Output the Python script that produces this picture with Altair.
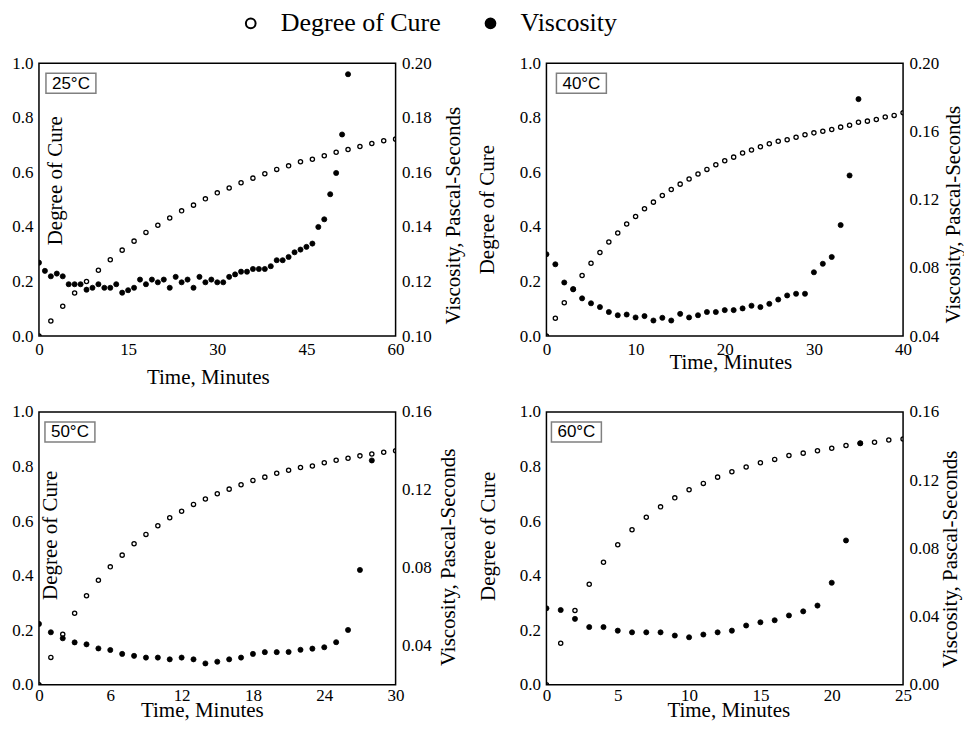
import altair as alt
import pandas as pd

SERIES = ["Degree of Cure", "Viscosity"]
TEMPS = ["25°C", "40°C", "50°C", "60°C"]

# ---------------- 25 °C ----------------
t_cure_25 = [0, 2, 4, 6, 8, 10, 12, 14, 16, 18, 20, 22, 24, 26, 28, 30, 32, 34, 36, 38,
             40, 42, 44, 46, 48, 50, 52, 54, 56, 58, 60]
cure_25 = [0.0, 0.055, 0.109, 0.158, 0.200, 0.241, 0.280, 0.315, 0.348, 0.380, 0.406,
           0.433, 0.459, 0.480, 0.503, 0.525, 0.543, 0.562, 0.579, 0.595, 0.611, 0.624,
           0.639, 0.648, 0.661, 0.674, 0.684, 0.695, 0.706, 0.716, 0.722]
t_visc_25 = [0, 1, 2, 3, 4, 5, 6, 7, 8, 9, 10, 11, 12, 13, 14, 15, 16, 17, 18, 19, 20,
             21, 22, 23, 24, 25, 26, 27, 28, 29, 30, 31, 32, 33, 34, 35, 36, 37, 38, 39,
             40, 41, 42, 43, 44, 45, 46, 47, 48, 49, 50, 51, 52]
visc_25 = [0.1269, 0.1239, 0.1219, 0.1229, 0.1219, 0.1190, 0.1190, 0.1190, 0.1170, 0.1177,
           0.1190, 0.1177, 0.1177, 0.1190, 0.1159, 0.1168, 0.1177, 0.1207, 0.1190, 0.1207,
           0.1197, 0.1207, 0.1177, 0.1217, 0.1197, 0.1207, 0.1177, 0.1217, 0.1197, 0.1207,
           0.1197, 0.1197, 0.1217, 0.1226, 0.1236, 0.1236, 0.1246, 0.1246, 0.1246, 0.1256,
           0.1278, 0.1278, 0.1290, 0.1307, 0.1317, 0.1327, 0.1339, 0.1400, 0.1428, 0.1520,
           0.1598, 0.1739, 0.1960]

# ---------------- 40 °C ----------------
t_cure_40 = [0, 1, 2, 3, 4, 5, 6, 7, 8, 9, 10, 11, 12, 13, 14, 15, 16, 17, 18, 19, 20,
             21, 22, 23, 24, 25, 26, 27, 28, 29, 30, 31, 32, 33, 34, 35, 36, 37, 38, 39, 40]
cure_40 = [0.0, 0.065, 0.122, 0.172, 0.222, 0.267, 0.306, 0.345, 0.378, 0.411, 0.438,
           0.467, 0.491, 0.515, 0.537, 0.557, 0.576, 0.594, 0.611, 0.628, 0.643, 0.656,
           0.671, 0.682, 0.694, 0.705, 0.714, 0.720, 0.729, 0.738, 0.745, 0.751, 0.757,
           0.766, 0.773, 0.784, 0.788, 0.794, 0.803, 0.809, 0.819]
t_visc_40 = [0, 1, 2, 3, 4, 5, 6, 7, 8, 9, 10, 11, 12, 13, 14, 15, 16, 17, 18, 19, 20,
             21, 22, 23, 24, 25, 26, 27, 28, 29, 30, 31, 32, 33, 34, 35]
visc_40 = [0.0880, 0.0821, 0.0714, 0.0674, 0.0621, 0.0592, 0.0570, 0.0541, 0.0522, 0.0526,
           0.0509, 0.0517, 0.0491, 0.0507, 0.0491, 0.0530, 0.0509, 0.0522, 0.0541, 0.0541,
           0.0552, 0.0552, 0.0562, 0.0578, 0.0570, 0.0589, 0.0614, 0.0638, 0.0648, 0.0648,
           0.0774, 0.0824, 0.0864, 0.1051, 0.1342, 0.1790]

# ---------------- 50 °C ----------------
t_cure_50 = [0, 1, 2, 3, 4, 5, 6, 7, 8, 9, 10, 11, 12, 13, 14, 15, 16, 17, 18, 19, 20,
             21, 22, 23, 24, 25, 26, 27, 28, 29, 30]
cure_50 = [0.0, 0.100, 0.185, 0.262, 0.326, 0.383, 0.432, 0.475, 0.517, 0.551, 0.583,
           0.612, 0.636, 0.661, 0.681, 0.700, 0.717, 0.733, 0.749, 0.761, 0.775, 0.786,
           0.796, 0.802, 0.814, 0.823, 0.830, 0.839, 0.846, 0.852, 0.858]
t_visc_50 = [0, 1, 2, 3, 4, 5, 6, 7, 8, 9, 10, 11, 12, 13, 14, 15, 16, 17, 18, 19, 20,
             21, 22, 23, 24, 25, 26, 27, 28]
visc_50 = [0.0512, 0.0469, 0.0438, 0.0417, 0.0407, 0.0386, 0.0378, 0.0358, 0.0348, 0.0339,
           0.0339, 0.0330, 0.0339, 0.0330, 0.0309, 0.0318, 0.0330, 0.0339, 0.0358, 0.0367,
           0.0367, 0.0368, 0.0379, 0.0385, 0.0392, 0.0418, 0.0481, 0.0789, 0.1351]

# ---------------- 60 °C ----------------
t_cure_60 = [0, 1, 2, 3, 4, 5, 6, 7, 8, 9, 10, 11, 12, 13, 14, 15, 16, 17, 18, 19, 20,
             21, 22, 23, 24, 25]
cure_60 = [0.0, 0.152, 0.272, 0.368, 0.449, 0.513, 0.568, 0.614, 0.652, 0.685, 0.715,
           0.738, 0.761, 0.781, 0.798, 0.814, 0.826, 0.840, 0.849, 0.858, 0.867, 0.877,
           0.885, 0.889, 0.897, 0.901]
t_visc_60 = [0, 1, 2, 3, 4, 5, 6, 7, 8, 9, 10, 11, 12, 13, 14, 15, 16, 17, 18, 19, 20,
             21, 22]
visc_60 = [0.0448, 0.0438, 0.0386, 0.0338, 0.0338, 0.0317, 0.0307, 0.0307, 0.0307, 0.0288,
           0.0278, 0.0294, 0.0307, 0.0317, 0.0347, 0.0366, 0.0378, 0.0406, 0.0430, 0.0464,
           0.0598, 0.0846, 0.1416]

# axis settings
X_TICKS = [[0, 15, 30, 45, 60], [0, 10, 20, 30, 40], [0, 6, 12, 18, 24, 30], [0, 5, 10, 15, 20, 25]]
V_DOMAIN = [[0.10, 0.20], [0.04, 0.20], [0.02, 0.16], [0.00, 0.16]]
V_TICKS = [[0.10, 0.12, 0.14, 0.16, 0.18, 0.20], [0.04, 0.08, 0.12, 0.16, 0.20],
           [0.04, 0.08, 0.12, 0.16], [0.00, 0.04, 0.08, 0.12, 0.16]]
CURE_TICKS = [0.0, 0.2, 0.4, 0.6, 0.8, 1.0]

# layout (pixels, relative to each plot area)
W, H = 357, 273
LEFT_TITLE = [(23, 117), (-53, 146), (18, 123), (-52, 124)]
RIGHT_TITLE = [(64, 152), (56, 151), (59, 145), (53, 147)]
X_TITLE = [(169, 48), (184, 33), (163, 32), (182, 32)]
X_LABEL_PAD = [5, 5, 3, 3]
BOX_X = [7, 10, 6, 5]

SERIF = "Liberation Serif"
LBL = dict(labelFont=SERIF, labelFontSize=17, labelColor="black",
           titleFont=SERIF, titleFontSize=21, titleFontWeight="normal", titleColor="black",
           ticks=False, tickSize=0, domain=False, grid=False,
           labelFlush=False, labelOverlap=False)

legend = alt.Legend(
    orient="none", legendX=199, legendY=-53, direction="horizontal", title=None,
    symbolType="circle", symbolSize=95, symbolStrokeWidth=2, symbolStrokeColor="black",
    labelFont=SERIF, labelFontSize=26, labelColor="black", labelOffset=17,
    columnPadding=36, labelLimit=400, padding=0,
)
fill_scale = alt.Scale(domain=SERIES, range=["transparent", "black"])


def panel(i, tc, cv, tv, vv):
    df_c = pd.DataFrame({"t": tc, "value": cv, "series": SERIES[0]})
    df_v = pd.DataFrame({"t": tv, "value": vv, "series": SERIES[1]})
    xs = alt.Scale(domain=[0, X_TICKS[i][-1]], nice=False, zero=False)
    x_axis = alt.Axis(values=X_TICKS[i], title="Time, Minutes", format="d",
                      labelPadding=X_LABEL_PAD[i], titleX=X_TITLE[i][0], titleY=X_TITLE[i][1],
                      titleAlign="center", titleBaseline="alphabetic", **LBL)
    left_axis = alt.Axis(orient="left", values=CURE_TICKS, format=".1f",
                         title="Degree of Cure", labelPadding=6,
                         titleAngle=270, titleAlign="center", titleBaseline="alphabetic",
                         titleX=LEFT_TITLE[i][0], titleY=LEFT_TITLE[i][1], **LBL)
    right_axis = alt.Axis(orient="right", values=V_TICKS[i], format=".2f",
                          title="Viscosity, Pascal-Seconds", labelPadding=6,
                          titleAngle=270, titleAlign="center", titleBaseline="alphabetic",
                          titleX=RIGHT_TITLE[i][0], titleY=RIGHT_TITLE[i][1], **LBL)
    cure = alt.Chart(df_c).mark_point(
        shape="circle", filled=True, size=18, stroke="black", strokeWidth=1.3, clip=True, opacity=1
    ).encode(
        x=alt.X("t:Q", scale=xs, axis=x_axis),
        y=alt.Y("value:Q", scale=alt.Scale(domain=[0, 1], nice=False, zero=False), axis=left_axis),
        fill=alt.Fill("series:N", scale=fill_scale, legend=legend),
    )
    visc = alt.Chart(df_v).mark_point(
        shape="circle", filled=True, size=26, stroke="black", strokeWidth=0.8, clip=True, opacity=1
    ).encode(
        x=alt.X("t:Q", scale=xs, axis=x_axis),
        y=alt.Y("value:Q", scale=alt.Scale(domain=V_DOMAIN[i], nice=False, zero=False), axis=right_axis),
        fill=alt.Fill("series:N", scale=fill_scale, legend=legend),
    )
    lab = alt.Data(values=[{"label": TEMPS[i]}])
    box = alt.Chart(lab).mark_rect(fill="white", stroke="#808080", strokeWidth=1.5).encode(
        x=alt.value(BOX_X[i]), x2=alt.value(BOX_X[i] + 50), y=alt.value(10), y2=alt.value(30)
    )
    txt = alt.Chart(lab).mark_text(font="Liberation Sans", fontSize=17, color="black",
                                   align="center", baseline="middle").encode(
        x=alt.value(BOX_X[i] + 25), y=alt.value(20.5), text="label:N"
    )
    return alt.layer(cure, visc, box, txt).resolve_scale(y="independent").properties(width=W, height=H)


p1 = panel(0, t_cure_25, cure_25, t_visc_25, visc_25)
p2 = panel(1, t_cure_40, cure_40, t_visc_40, visc_40)
p3 = panel(2, t_cure_50, cure_50, t_visc_50, visc_50)
p4 = panel(3, t_cure_60, cure_60, t_visc_60, visc_60)

chart = alt.concat(
    p1, p2, p3, p4, columns=2, spacing={"row": 76, "column": 151}, bounds="flush"
).properties(
    padding={"left": 3, "top": 2, "right": 0, "bottom": 0},
    background="white",
).configure_axis(**LBL).configure_view(stroke="black", strokeWidth=1.5)

chart.save("out.html", embed_options={"renderer": "svg", "actions": False})
